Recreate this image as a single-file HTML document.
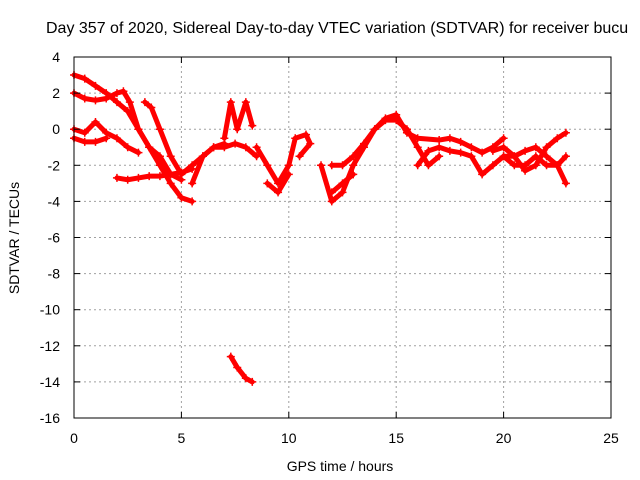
<!DOCTYPE html>
<html><head><meta charset="utf-8"><style>
body{margin:0;background:#fff}
svg{display:block;font-family:"Liberation Sans",sans-serif}
</style></head><body>
<svg id="chart" width="640" height="480" viewBox="0 0 640 480">
<rect width="640" height="480" fill="#fff"/>
<g id="grid"></g>
<g id="marks"></g>
<rect x="74" y="57" width="537" height="361" fill="none" stroke="#000" stroke-width="1"/>
<g id="ticks" font-size="14" fill="#000"></g>
<text x="46" y="33" font-size="16">Day 357 of 2020, Sidereal Day-to-day VTEC variation (SDTVAR) for receiver bucu</text>
<text x="340" y="471" font-size="14" text-anchor="middle">GPS time / hours</text>
<text transform="translate(19,238) rotate(-90)" font-size="14" text-anchor="middle">SDTVAR / TECUs</text>
</svg>
<script>
const xTicks=[0,5,10,15,20,25];
const yTicks=[4,2,0,-2,-4,-6,-8,-10,-12,-14,-16];
const track1=[[0,3],[0.5,2.8],[1,2.4],[1.5,2],[2,1.5],[2.5,1],[3,0],[3.5,-1],[4,-2],[4.5,-3],[5,-3.8],[5.5,-4]];
const track2=[[0,2],[0.5,1.7],[1,1.6],[1.5,1.7],[2,2],[2.3,2.1],[2.6,1.5],[3,0],[3.5,-1],[4,-1.5],[4.5,-2.5],[5,-2.8]];
const track3=[[0,0],[0.5,-0.2],[1,0.4],[1.5,-0.2],[2,-0.5],[2.5,-1],[3,-1.3]];
const track4=[[0,-0.5],[0.5,-0.7],[1,-0.7],[1.5,-0.5]];
const track5=[[2,-2.7],[2.5,-2.8],[3,-2.7],[3.5,-2.6],[4,-2.6],[4.5,-2.5],[5,-2.4],[5.5,-2.2]];
const track6=[[3.3,1.5],[3.6,1.2],[4,0],[4.5,-1.5],[5,-2.5],[5.5,-2],[6,-1.5],[6.5,-1],[7,-0.8]];
const track7=[[5.5,-3],[6,-1.5],[6.5,-1],[7,-1],[7.5,-0.8],[8,-1],[8.5,-1.5]];
const track8=[[7,-0.5],[7.3,1.5],[7.6,0],[8,1.5],[8.3,0.2]];
const track9=[[7.3,-12.6],[7.6,-13.2],[8,-13.8],[8.3,-14]];
const track10=[[8.5,-1],[9,-2],[9.5,-3],[10,-2],[10.3,-0.5],[10.8,-0.3],[11,-0.8],[10.5,-1.5]];
const track11=[[9,-3],[9.5,-3.5],[10,-2.5]];
const track12=[[11.5,-2],[12,-4],[12.5,-3.5],[13,-2],[13.5,-1],[14,0],[14.5,0.5],[15,0.5],[15.5,0],[16,-1],[16.5,-2],[17,-1.5]];
const track13=[[12,-2],[12.5,-2],[13,-1.5],[13.5,-0.8],[14,0],[14.5,0.6],[15,0.8],[15.5,-0.2],[16,-0.5],[17,-0.6],[17.5,-0.5],[18,-0.7],[18.5,-1],[19,-1.3],[19.5,-1],[20,-0.5]];
const track14=[[12,-3.5],[12.5,-3],[13,-2.5]];
const track15=[[16,-2],[16.5,-1.2],[17,-1],[17.5,-1.2],[18,-1.3],[18.5,-1.5],[19,-2.5],[19.5,-2],[20,-1.5],[20.5,-1.5],[21,-1.2],[21.5,-1],[22,-1.5],[22.5,-2],[22.9,-3]];
const track16=[[19.5,-1.2],[20,-1],[20.5,-1.5],[21,-2.3],[21.5,-2],[22,-1],[22.5,-0.5],[22.9,-0.2]];
const track17=[[20,-1.5],[20.5,-2],[21,-2],[21.5,-1.5],[22,-2],[22.5,-2],[22.9,-1.5]];
const tracks=[track1,track2,track3,track4,track5,track6,track7,track8,track9,track10,track11,track12,track13,track14,track15,track16,track17];

const X0=74,X1=611,Y0=418,Y1=57,xmin=0,xmax=25,ymin=-16,ymax=4;
const sx=v=>X0+(v-xmin)/(xmax-xmin)*(X1-X0);
const sy=v=>Y0-(v-ymin)/(ymax-ymin)*(Y0-Y1);
const NS="http://www.w3.org/2000/svg";
const mk=(t,a,p)=>{const e=document.createElementNS(NS,t);for(const k in a)e.setAttribute(k,a[k]);p.appendChild(e);return e;};
const grid=document.getElementById('grid'),ticks=document.getElementById('ticks'),marks=document.getElementById('marks');
xTicks.forEach(v=>{
  const x=sx(v);
  if(v>xmin&&v<xmax){const g=mk('line',{x1:x,x2:x,y1:Y0,y2:Y1,stroke:'#a0a0a0','stroke-dasharray':'2,3'},grid);
  
  }
  const t1=mk('line',{x1:x,x2:x,y1:Y0,y2:Y0-6,stroke:'#000'},ticks);
  
  
  const t2=mk('line',{x1:x,x2:x,y1:Y1,y2:Y1+6,stroke:'#000'},ticks);
  
  
  const l=mk('text',{x:x,y:443,'text-anchor':'middle'},ticks);l.textContent=v;
  
  
});
yTicks.forEach(v=>{
  const y=sy(v);
  if(v>ymin&&v<ymax){const g=mk('line',{x1:X0,x2:X1,y1:y,y2:y,stroke:'#a0a0a0','stroke-dasharray':'2,3'},grid);
  
  }
  const t1=mk('line',{x1:X0,x2:X0+6,y1:y,y2:y,stroke:'#000'},ticks);
  
  
  const t2=mk('line',{x1:X1,x2:X1-6,y1:y,y2:y,stroke:'#000'},ticks);
  
  
  const l=mk('text',{x:60,y:y+5,'text-anchor':'end'},ticks);l.textContent=v;
  
  
});
tracks.forEach(tr=>{
  const pl=mk('polyline',{points:tr.map(p=>sx(p[0])+','+sy(p[1])).join(' '),fill:'none',stroke:'#ff0000','stroke-width':5,'stroke-linejoin':'round','stroke-linecap':'round'},marks);
  
  
  tr.forEach(p=>{
    const x=sx(p[0]),y=sy(p[1]);
    const m=mk('path',{d:`M${x-4},${y}H${x+4}M${x},${y-4}V${y+4}`,stroke:'#ff0000','stroke-width':1.5},marks);
    
    
  });
});
</script>
</body></html>
